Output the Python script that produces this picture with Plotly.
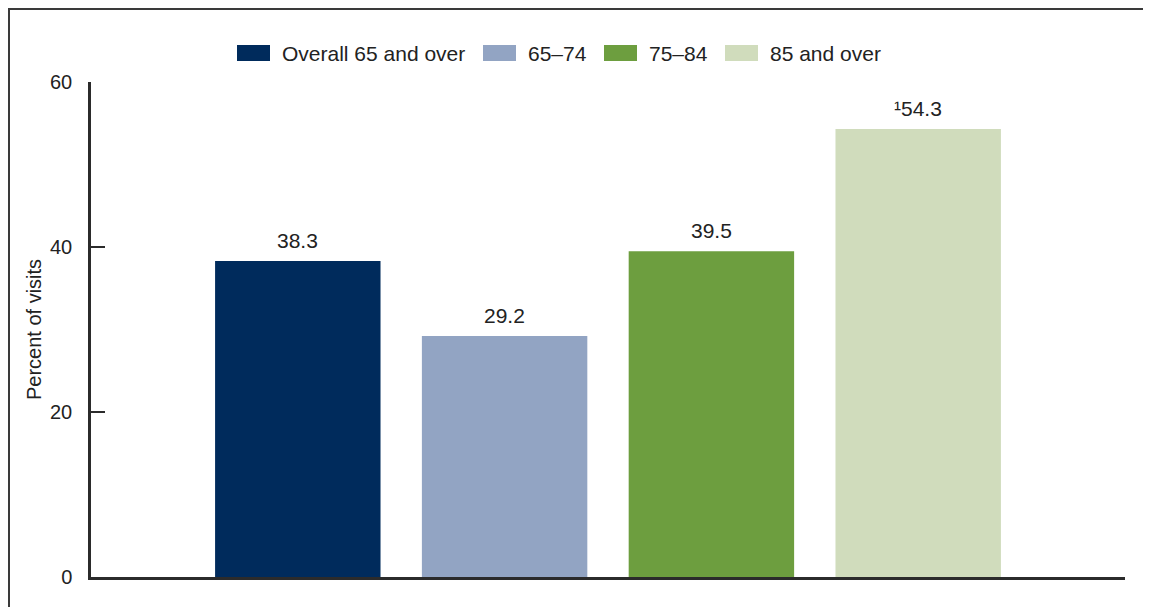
import plotly.graph_objects as go

categories = ["Overall 65 and over", "65–74", "75–84", "85 and over"]
values = [38.3, 29.2, 39.5, 54.3]
labels = ["38.3", "29.2", "39.5", "¹54.3"]
colors = ["#002B5C", "#92A4C3", "#6D9E3F", "#D0DCBC"]
yticks = [0, 20, 40, 60]

# page offset (browser body margin) compensation
OFF = 8
W, H = 1151 - OFF, 607 - OFF
L, R, T, B = 91 - OFF, 26, 82 - OFF, 30
pw, ph = W - L - R, H - T - B


def px_x(sx):
    return (sx - OFF - L) / pw


def px_y(sy):
    return (H - B - (sy - OFF)) / ph


fig = go.Figure()
for i, (c, v, col) in enumerate(zip(categories, values, colors)):
    fig.add_trace(go.Bar(
        x=[i], y=[v], name=c, width=0.8, showlegend=False,
        marker=dict(color=col, line=dict(width=0)),
    ))

# value labels above bars
for i, (v, lab) in enumerate(zip(values, labels)):
    fig.add_annotation(x=i, y=v, xref="x", yref="y", text=lab, showarrow=False,
                       yanchor="bottom", yshift=7,
                       font=dict(size=21, color="#222"))

# custom legend (wide rectangular swatches)
leg_starts = [237, 483, 604, 725]
for c, col, sx in zip(categories, colors, leg_starts):
    fig.add_shape(type="rect", xref="paper", yref="paper",
                  x0=px_x(sx), x1=px_x(sx + 33), y0=px_y(61), y1=px_y(45),
                  fillcolor=col, line=dict(width=0))
    fig.add_annotation(xref="paper", yref="paper", x=px_x(sx + 43), y=px_y(53),
                       xanchor="left", yanchor="middle", text=c, showarrow=False,
                       font=dict(size=21, color="#222"))

fig.update_layout(
    width=W, height=H,
    margin=dict(l=L, r=R, t=T, b=B),
    paper_bgcolor="white", plot_bgcolor="white",
    barmode="overlay",
    font=dict(family="Liberation Sans, Arial, sans-serif", size=20, color="#222"),
    showlegend=False,
    xaxis=dict(range=[-1, 4], showticklabels=False, ticks="", showgrid=False,
               zeroline=False, showline=True, linecolor="#2b2b2b", linewidth=2.5,
               fixedrange=True),
    yaxis=dict(range=[0, 60], tickvals=yticks, ticks="inside", ticklen=14,
               tickwidth=2, tickcolor="#2b2b2b", showgrid=False, zeroline=False,
               showline=True, linecolor="#2b2b2b", linewidth=2.5,
               ticklabelstandoff=12,
               title=dict(text="Percent of visits", font=dict(size=20), standoff=4),
               tickfont=dict(size=20, color="#222")),
)

# outer frame (left and top edges visible, rest off-canvas)
fig.add_shape(type="rect", xref="paper", yref="paper",
              x0=px_x(9), x1=1.3, y0=-0.3, y1=px_y(9),
              line=dict(color="#3a3a3a", width=2), fillcolor="rgba(0,0,0,0)",
              layer="below")

fig.write_html("out.html")
